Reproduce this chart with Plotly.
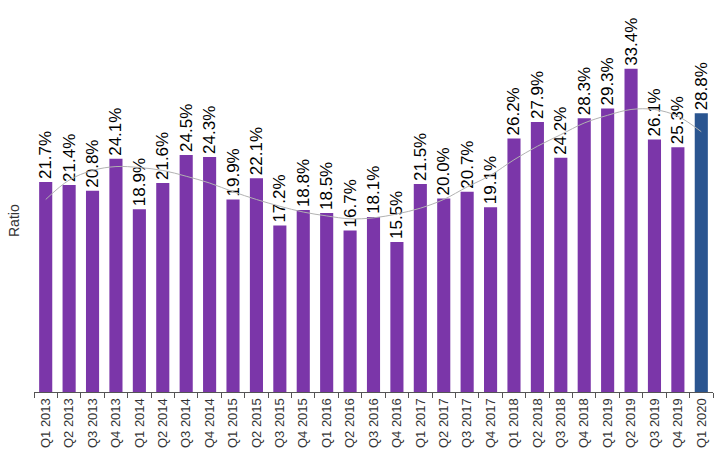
import plotly.graph_objects as go

quarters = [
    "Q1 2013", "Q2 2013", "Q3 2013", "Q4 2013",
    "Q1 2014", "Q2 2014", "Q3 2014", "Q4 2014",
    "Q1 2015", "Q2 2015", "Q3 2015", "Q4 2015",
    "Q1 2016", "Q2 2016", "Q3 2016", "Q4 2016",
    "Q1 2017", "Q2 2017", "Q3 2017", "Q4 2017",
    "Q1 2018", "Q2 2018", "Q3 2018", "Q4 2018",
    "Q1 2019", "Q2 2019", "Q3 2019", "Q4 2019",
    "Q1 2020",
]
ratio = [
    21.7, 21.4, 20.8, 24.1,
    18.9, 21.6, 24.5, 24.3,
    19.9, 22.1, 17.2, 18.8,
    18.5, 16.7, 18.1, 15.5,
    21.5, 20.0, 20.7, 19.1,
    26.2, 27.9, 24.2, 28.3,
    29.3, 33.4, 26.1, 25.3,
    28.8,
]
trend = [
    19.9, 21.9, 22.9, 23.3,
    23.2, 22.9, 22.3, 21.6,
    20.7, 19.9, 19.2, 18.6,
    18.2, 17.9, 18.0, 18.4,
    19.0, 19.9, 21.2, 22.4,
    24.0, 25.4, 26.6, 27.8,
    28.6, 29.2, 29.2, 28.5,
    26.9,
]

PURPLE = "#7B36A9"
BLUE = "#2A5590"
colors = [PURPLE] * (len(quarters) - 1) + [BLUE]
labels = [f"{v:.1f}%" for v in ratio]

FONT = "Liberation Sans, Arial, sans-serif"

fig = go.Figure()
fig.add_trace(go.Bar(
    x=quarters, y=ratio,
    marker=dict(color=colors, line=dict(width=0)),
    width=0.56,
    text=labels,
    textposition="outside",
    textangle=-90,
    constraintext="none",
    cliponaxis=False,
    textfont=dict(family=FONT, size=17, color="#000000"),
    hoverinfo="skip",
    showlegend=False,
))
fig.add_trace(go.Scatter(
    x=quarters, y=trend,
    mode="lines",
    line=dict(color="#B2B2B2", width=1, shape="spline", smoothing=1.0),
    hoverinfo="skip",
    showlegend=False,
))

fig.update_layout(
    width=714, height=455,
    margin=dict(l=34, r=1, t=5, b=63, autoexpand=False),
    paper_bgcolor="white",
    plot_bgcolor="white",
    font=dict(family=FONT, color="#333333"),
    xaxis=dict(
        type="category",
        range=[-0.5, len(quarters) - 0.5],
        showline=True, linecolor="#555555", linewidth=1,
        ticks="outside", tickson="boundaries", ticklen=5,
        tickcolor="#555555", tickwidth=1,
        tickangle=-90,
        tickfont=dict(family=FONT, size=13, color="#333333"),
        showgrid=False, zeroline=False,
        automargin=False,
    ),
    yaxis=dict(
        range=[0, 40],
        showticklabels=False, showgrid=False, zeroline=False,
        showline=False, ticks="",
    ),
    annotations=[dict(
        text="Ratio", xref="paper", yref="paper",
        x=(14 - 34) / 679, y=(392 - 221) / 387,
        xanchor="center", yanchor="middle",
        textangle=-90, showarrow=False,
        font=dict(family=FONT, size=14, color="#333333"),
    )],
)

fig.write_html(
    "out.html",
    config={"displayModeBar": False, "staticPlot": True},
    post_script="document.body.style.margin='0';document.body.style.padding='0';",
)
